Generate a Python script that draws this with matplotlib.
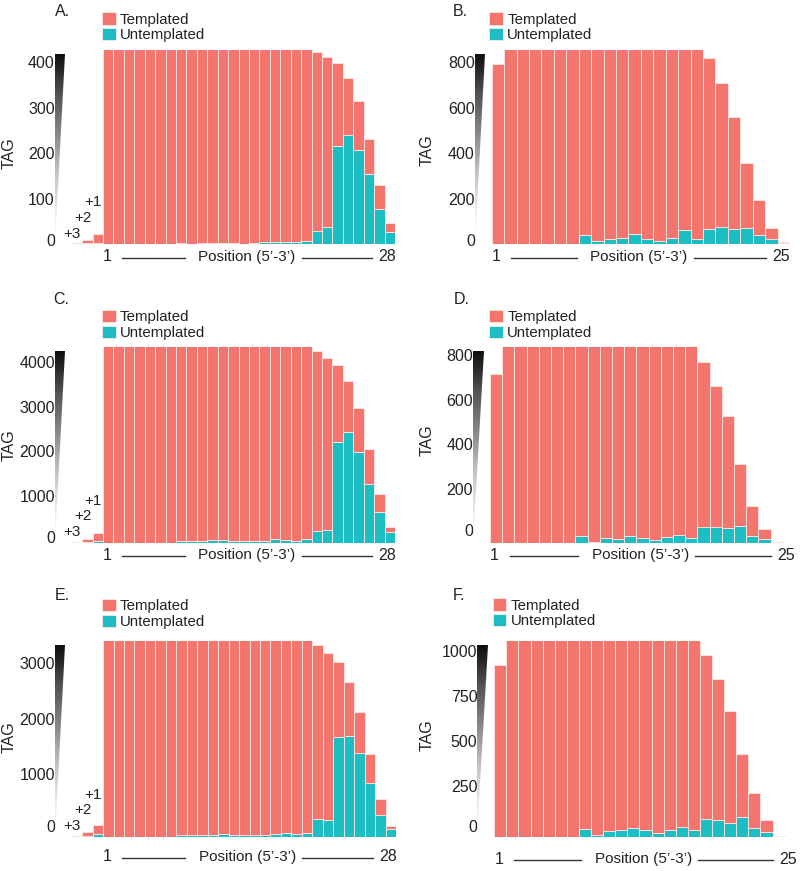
import numpy as np
import matplotlib
matplotlib.use('Agg')
import matplotlib.pyplot as plt
from matplotlib.patches import Patch, Polygon
from matplotlib.lines import Line2D
from matplotlib.transforms import ScaledTranslation

plt.rcParams['font.family'] = ['Liberation Sans', 'DejaVu Sans']

PINK = '#F4756D'
TEAL = '#1DBEC3'
EDGE = '#FDE8E6'
INK = '#222222'

# ---- data (clipped bars set just over the top) ----
# panels A, C, E: +3, +2, +1 then positions 1..28
a_total = [3, 10, 22,
           440, 440, 440, 440, 440, 440, 440, 440, 440, 440,
           440, 440, 440, 440, 440, 440, 440, 440, 440, 440,
           422, 411, 398, 366, 314, 232, 131, 48]
a_untemp = [1, 3, 4,
            0, 0, 0, 0, 0, 0, 0, 4, 2, 3,
            4, 4, 3, 2, 3, 5, 6, 6, 6, 8,
            30, 39, 216, 241, 207, 155, 77, 28]

c_total = [22, 75, 210,
           4500, 4500, 4500, 4500, 4500, 4500, 4500, 4500, 4500, 4500,
           4500, 4500, 4500, 4500, 4500, 4500, 4500, 4500, 4500, 4500,
           4298, 4141, 3978, 3620, 3022, 2091, 1083, 345]
c_untemp = [5, 15, 45,
            0, 0, 0, 0, 0, 0, 0, 37, 40, 37,
            55, 50, 40, 35, 45, 45, 75, 70, 45, 80,
            269, 284, 2254, 2485, 2024, 1314, 680, 233]

e_total = [7, 84, 203,
           3600, 3600, 3600, 3600, 3600, 3600, 3600, 3600, 3600, 3600,
           3600, 3600, 3600, 3600, 3600, 3600, 3600, 3600, 3600, 3600,
           3435, 3287, 3136, 2778, 2240, 1476, 676, 192]
e_untemp = [3, 12, 42,
            0, 0, 0, 0, 0, 0, 0, 24, 24, 24,
            36, 48, 36, 24, 24, 36, 54, 66, 48, 72,
            311, 305, 1792, 1805, 1495, 957, 394, 132]

# panels B, D, F: positions 1..n
b_total = [790, 870, 870, 870, 870, 870, 870, 870, 870, 870,
           870, 870, 870, 870, 870, 870, 870, 818, 710, 560,
           359, 194, 72, 10]
b_untemp = [0, 0, 0, 0, 0, 0, 0, 41, 14, 22,
            28, 47, 23, 13, 28, 61, 25, 69, 75, 69,
            73, 43, 25, 5]

d_total = [757, 900, 900, 900, 900, 900, 900, 900, 900, 900,
           900, 900, 900, 900, 900, 900, 900, 812, 703, 570,
           354, 167, 63, 7, 1]
d_untemp = [0, 0, 0, 0, 0, 0, 0, 33, 6, 22,
            19, 33, 22, 13, 28, 37, 22, 73, 73, 67,
            77, 33, 19, 3, 0]

f_total = [962, 1120, 1120, 1120, 1120, 1120, 1120, 1120, 1120, 1120,
           1120, 1120, 1120, 1120, 1120, 1120, 1120, 1016, 882, 703,
           465, 246, 95, 9, 2]
f_untemp = [0, 0, 0, 0, 0, 0, 0, 46, 13, 33,
            43, 52, 39, 26, 43, 59, 39, 100, 98, 78,
            113, 50, 31, 7, 0]

a_ticks = [0, 100, 200, 300, 400]
b_ticks = [0, 200, 400, 600, 800]
c_ticks = [0, 1000, 2000, 3000, 4000]
d_ticks = [0, 200, 400, 600, 800]
e_ticks = [0, 1000, 2000, 3000]
f_ticks = [0, 250, 500, 750, 1000]

overhang_labels = ['+3', '+2', '+1']

W, H = 800, 871
fig = plt.figure(figsize=(W / 100, H / 100), dpi=100)


def fx(x):
    return x / W


def fy(y):
    return 1 - y / H


def draw_panel(letter, total, untemp, ticks, ymax, rect, n_extra, last_label,
               letter_xy, leg_xy, tag_xy, xrow, tick_dy):
    left, top, right, bottom = rect
    ax = fig.add_axes([fx(left), fy(bottom), fx(right - left), (bottom - top) / H])
    total = np.array(total)
    untemp = np.array(untemp)
    x = np.arange(len(total))
    ax.bar(x, untemp, width=1.0, color=TEAL, edgecolor=EDGE, linewidth=0.6)
    ax.bar(x, total - untemp, bottom=untemp, width=1.0, color=PINK,
           edgecolor=EDGE, linewidth=0.6)
    ax.set_xlim(-0.5, len(total) - 0.5)
    ax.set_ylim(0, ymax)
    for s in ax.spines.values():
        s.set_visible(False)
    ax.set_xticks([])
    ax.set_yticks(ticks)
    ax.set_yticklabels([str(t) for t in ticks])
    ax.tick_params(axis='y', length=0, pad=12.2, labelsize=11.5, labelcolor=INK)
    for t, lbl in zip(ticks, ax.get_yticklabels()):
        dy = tick_dy + (4 if t == 0 else 0)
        lbl.set_transform(lbl.get_transform()
                          + ScaledTranslation(0, dy / 100, fig.dpi_scale_trans))

    # gradient wedge next to the y axis
    wax = fig.add_axes([fx(left - 17), fy(bottom), fx(10.5), (bottom - top - 4) / H])
    wax.axis('off')
    grad = np.linspace(0.95, 0.0, 256).reshape(-1, 1)
    im = wax.imshow(grad, cmap='Greys', vmin=0, vmax=1, extent=[0, 1, 0, 1],
                    aspect='auto', origin='upper')
    tri = Polygon([(0, 0), (0, 1), (1, 1)], closed=True, transform=wax.transData)
    im.set_clip_path(tri)
    wax.set_xlim(0, 1)
    wax.set_ylim(0, 1)

    # overhang labels +3 +2 +1
    h_px = bottom - top
    for i in range(n_extra):
        ax.text(i - 0.45, (10.5 + 15.8 * i) / h_px, overhang_labels[i],
                transform=ax.get_xaxis_transform(), ha='center', va='center',
                fontsize=11, color=INK)

    # position axis: "1" ---- Position (5'-3') ---- last
    bw = (right - left) / len(total)
    x1 = left + (n_extra + 0.5) * bw - 1.5
    x2 = left + (len(total) - 0.5) * bw - 3
    xc = (x1 + x2) / 2
    fig.text(fx(x1), fy(xrow), '1', ha='center', va='center', fontsize=11.5, color=INK)
    fig.text(fx(x2), fy(xrow), last_label, ha='center', va='center',
             fontsize=11.5, color=INK)
    fig.text(fx(xc), fy(xrow), 'Position (5\u2019-3\u2019)', ha='center', va='center',
             fontsize=11, color=INK)
    for a, b in [(x1 + 15, xc - 62), (xc + 55, x2 - 15)]:
        fig.add_artist(Line2D([fx(a), fx(b)], [fy(xrow + 1), fy(xrow + 1)],
                              transform=fig.transFigure, color='#333333', lw=1.0))

    # panel letter and y label
    fig.text(fx(letter_xy[0]), fy(letter_xy[1]), letter, ha='left', va='center',
             fontsize=11.5, color=INK)
    fig.text(fx(tag_xy[0]), fy(tag_xy[1]), 'TAG', rotation=90, ha='center',
             va='center', fontsize=11.5, color=INK)

    handles = [Patch(facecolor=PINK, edgecolor=EDGE, lw=0.6, label='Templated'),
               Patch(facecolor=TEAL, edgecolor=EDGE, lw=0.6, label='Untemplated')]
    fig.legend(handles=handles, loc='upper left',
               bbox_to_anchor=(fx(leg_xy[0]), fy(leg_xy[1] - 1)),
               frameon=False, fontsize=10.8, handlelength=0.9, handleheight=0.9,
               handletextpad=0.3, labelspacing=0.08, borderpad=0, borderaxespad=0,
               labelcolor=INK)
    return ax


draw_panel('A.', a_total, a_untemp, a_ticks, 427, (71.7, 50, 395, 244.5), 3, '28',
           (55, 12), (102, 13.3), (9.5, 153), 256.7, 0)
draw_panel('B.', b_total, b_untemp, b_ticks, 853, (491.7, 50, 790, 244.3), 0, '25',
           (453, 12), (489.3, 13.3), (427.5, 150), 256.7, 0)
draw_panel('C.', c_total, c_untemp, c_ticks, 4374, (71.7, 347.3, 395, 542.7), 3, '28',
           (53.3, 300), (102, 311), (9.5, 445), 555, 2)
draw_panel('D.', d_total, d_untemp, d_ticks, 880, (490, 346.7, 795, 543.3), 0, '25',
           (453.3, 300), (489.3, 311), (427.5, 440), 555, 9.5)
draw_panel('E.', e_total, e_untemp, e_ticks, 3507, (71.7, 641, 396, 836.7), 3, '28',
           (55, 595), (102, 600), (9.5, 736.7), 856.7, 6.5)
draw_panel('F.', f_total, f_untemp, f_ticks, 1098, (494.3, 640.7, 796.7, 837.3), 0, '25',
           (453, 595), (492.7, 599.3), (427.5, 735), 859, 7)

fig.savefig('out.png', dpi=100)
